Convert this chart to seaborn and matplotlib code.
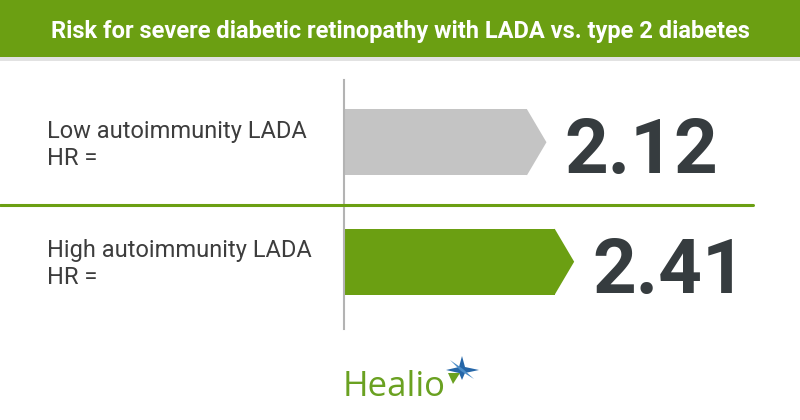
import matplotlib
matplotlib.use("Agg")
import matplotlib.pyplot as plt
import matplotlib.transforms as mtransforms
from matplotlib.patches import Rectangle, Polygon
from matplotlib.lines import Line2D
import seaborn as sns
import pandas as pd

# ---- data ----
title = "Risk for severe diabetic retinopathy with LADA vs. type 2 diabetes"
categories = ["Low autoimmunity LADA\nHR =", "High autoimmunity LADA\nHR ="]
hr_values = [2.12, 2.41]
value_labels = ["2.12", "2.41"]
bar_colors = ["#c4c4c4", "#6b9f12"]
brand = "Healio"

GREEN = "#6b9f12"
DARK = "#363c3f"
TIP = 0.2  # arrow tip length in data units

sns.set_theme(style="white")
plt.rcParams["font.family"] = ["Roboto", "DejaVu Sans"]

W, H = 800, 420
fig = plt.figure(figsize=(8, 4.2), dpi=100)

# header band
fig.patches.append(Rectangle((0, 1 - 57 / H), 1, 57 / H, transform=fig.transFigure,
                             facecolor=GREEN, edgecolor="none", zorder=0))
fig.patches.append(Rectangle((0, 1 - 61 / H), 1, 4 / H, transform=fig.transFigure,
                             facecolor="#e2e2e2", edgecolor="none", zorder=0))
fig.text(0.5, 1 - 38 / H, title, ha="center", va="baseline", color="white",
         fontsize=17, fontweight="bold",
         family=["Liberation Sans Narrow", "Roboto", "DejaVu Sans"])

# bar axes
left_px, right_px, top_px, bot_px = 344, 800, 80, 329
ax = fig.add_axes([left_px / W, 1 - bot_px / H, (right_px - left_px) / W, (bot_px - top_px) / H])
ax.set_facecolor("none")

df = pd.DataFrame({"group": categories, "rect": [v - TIP for v in hr_values]})
sns.barplot(data=df, x="rect", y="group", hue="group", palette=bar_colors,
            width=0.555, legend=False, orient="h", ax=ax, saturation=1,
            linewidth=0, edgecolor="none")

ppu = 95.5
ax.set_xlim(0, (right_px - left_px) / ppu)
ax.set_ylim(1.563, -0.521)

half = 0.555 / 2
for i, (v, c, lab) in enumerate(zip(hr_values, bar_colors, value_labels)):
    ax.add_patch(Polygon([(v - TIP - 0.005, i - half), (v, i), (v - TIP - 0.005, i + half)],
                         closed=True, facecolor=c, edgecolor="none", linewidth=0))
    ax.annotate(lab, xy=(v, i), xytext=(18, -31), textcoords="offset pixels",
                ha="left", va="baseline", fontsize=55, fontweight="bold",
                color=DARK, annotation_clip=False)

for s in ["top", "right", "bottom"]:
    ax.spines[s].set_visible(False)
ax.spines["left"].set_color("#b3b3b3")
ax.spines["left"].set_linewidth(1.5)
ax.set_xticks([])
ax.set_yticks([])
ax.set_xlabel("")
ax.set_ylabel("")

# category labels
blend = mtransforms.blended_transform_factory(fig.transFigure, ax.transData)
for i, cat in enumerate(categories):
    fig.text(47 / W, i + 0.02, cat, transform=blend, ha="left", va="center",
             fontsize=17, color="#3d3d3d", linespacing=1.22)

# divider
fig.add_artist(Line2D([0, 753 / W], [1 - 205 / H, 1 - 205 / H], transform=fig.transFigure,
                      color=GREEN, linewidth=2.2))

# logo
fig.text(343 / W, 1 - 396 / H, brand, ha="left", va="baseline", color="#6aa121",
         fontsize=25, family=["Open Sans", "DejaVu Sans"])
cx, cy = 462, 370
def P(x, y):
    return (x / W, 1 - y / H)
star = [P(cx, cy - 14), P(cx + 3, cy - 3), P(cx + 17, cy), P(cx + 3, cy + 3),
        P(cx, cy + 10), P(cx - 3, cy + 3), P(cx - 16, cy), P(cx - 3, cy - 3)]
fig.patches.append(Polygon(star, closed=True, transform=fig.transFigure,
                           facecolor="#2566a8", edgecolor="none"))
diag = [P(cx - 12, cy - 10), P(cx + 1, cy - 1), P(cx + 12, cy + 9), P(cx - 1, cy + 1)]
fig.patches.append(Polygon(diag, closed=True, transform=fig.transFigure,
                           facecolor="#4a8cc8", edgecolor="none"))
tri = [P(cx - 14, cy + 3), P(cx - 2, cy + 3), P(cx - 9, cy + 14)]
fig.patches.append(Polygon(tri, closed=True, transform=fig.transFigure,
                           facecolor="#6aa121", edgecolor="none"))

fig.savefig("out.png", dpi=100)
